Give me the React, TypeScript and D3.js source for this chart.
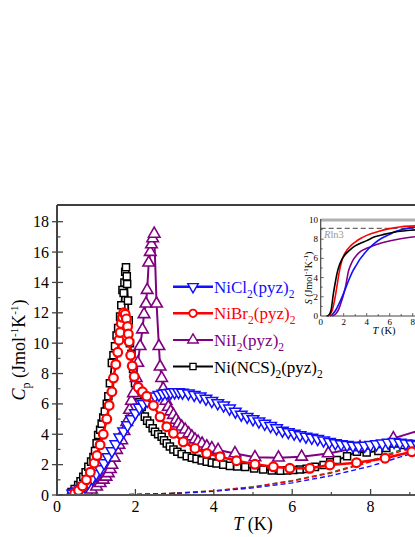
import React from 'react';
import * as d3 from 'd3';

// ---------- main data: Cp vs T ----------
const clT = [0.4,0.5,0.6,0.7,0.8,0.9,1.0,1.1,1.2,1.3,1.4,1.5,1.6,1.7,1.8,1.9,2.0,2.1,2.2,2.3,2.4,2.5,2.6,2.7,2.8,2.9,3.0,3.1,3.2,3.35,3.5,3.65,3.8,3.95,4.1,4.25,4.4,4.55,4.7,4.85,5.0,5.15,5.3,5.45,5.6,5.75,5.9,6.05,6.2,6.35,6.5,6.65,6.8,6.95,7.1,7.25,7.4,7.55,7.7,7.85,8.0,8.15,8.3,8.45,8.6,8.75,8.9,9.05,9.2];
const clCp = [0.1,0.2,0.4,0.6,0.85,1.1,1.4,1.7,2.1,2.5,2.9,3.35,3.8,4.2,4.6,5.0,5.4,5.75,6.0,6.2,6.35,6.5,6.6,6.68,6.72,6.75,6.77,6.78,6.75,6.7,6.6,6.5,6.35,6.2,6.05,5.9,5.7,5.5,5.3,5.15,5.0,4.85,4.7,4.55,4.4,4.25,4.15,4.05,3.95,3.85,3.78,3.7,3.6,3.5,3.42,3.35,3.3,3.25,3.22,3.25,3.3,3.35,3.4,3.45,3.5,3.45,3.4,3.35,3.3];

const brT = [0.45,0.55,0.65,0.75,0.85,0.95,1.02,1.1,1.18,1.27,1.33,1.4,1.44,1.5,1.55,1.58,1.61,1.64,1.67,1.7,1.74,1.77,1.8,1.82,1.84,1.88,1.92,1.97,2.07,2.18,2.29,2.46,2.63,2.8,2.97,3.22,3.52,3.82,4.16,4.58,5.05,5.52,5.94,6.45,6.96,7.64,8.37,9.05,9.4];
const brCp = [0.1,0.3,0.6,1.0,1.5,2.1,2.6,3.3,4.0,5.0,5.9,6.8,7.7,8.6,9.4,10.2,10.7,11.3,11.7,12.0,11.9,11.6,11.1,10.6,10.1,9.2,8.5,7.8,7.1,6.8,6.5,5.9,5.15,4.5,4.06,3.5,3.07,2.74,2.52,2.26,2.02,1.86,1.76,1.76,1.98,2.13,2.42,2.85,3.1];

const iT = [0.37,0.45,0.52,0.6,0.68,0.76,0.88,1.01,1.1,1.18,1.25,1.31,1.36,1.4,1.46,1.52,1.58,1.65,1.71,1.78,1.85,1.9,1.95,2.02,2.06,2.12,2.18,2.22,2.27,2.3,2.34,2.38,2.41,2.44,2.48,2.54,2.6,2.63,2.67,2.71,2.78,2.84,2.9,2.97,3.04,3.1,3.18,3.27,3.36,3.44,3.52,3.6,3.7,3.82,3.95,4.11,4.54,5.05,5.65,6.24,6.92,7.73,8.58,9.3];
const iCp = [0.1,0.1,0.12,0.15,0.18,0.22,0.35,0.55,0.78,1.0,1.2,1.43,1.7,1.98,2.45,2.96,3.3,3.6,4.2,4.8,5.6,6.2,6.7,7.7,8.7,9.8,10.9,11.9,12.6,13.5,15.3,16.0,16.5,16.9,17.2,12.6,9.8,8.45,7.7,7.0,6.2,5.8,5.5,5.27,4.95,4.7,4.5,4.3,4.05,3.85,3.65,3.5,3.38,3.2,3.08,2.96,2.74,2.48,2.46,2.52,2.74,3.14,3.73,4.3];

const ncsT = [0.37,0.45,0.54,0.6,0.67,0.73,0.8,0.87,0.93,0.97,1.01,1.05,1.1,1.14,1.18,1.22,1.27,1.31,1.35,1.4,1.44,1.48,1.52,1.56,1.61,1.64,1.67,1.7,1.72,1.74,1.76,1.78,1.79,1.81,1.83,1.86,1.9,1.94,1.99,2.05,2.1,2.16,2.24,2.3,2.37,2.44,2.5,2.58,2.67,2.73,2.8,2.88,2.97,3.07,3.18,3.31,3.44,3.56,3.69,3.82,3.95,4.07,4.24,4.41,4.6,4.8,5.03,5.26,5.48,5.7,5.87,6.03,6.2,6.37,6.58,6.8,6.97,7.14,7.4,7.65,7.9,8.2,8.4,8.6,8.85,9.1,9.3];
const ncsCp = [0.2,0.4,0.66,0.9,1.2,1.5,1.86,2.2,2.5,2.9,3.4,3.95,4.3,4.7,5.1,5.5,6.0,6.5,7.36,8.7,9.2,9.8,10.5,11.0,11.75,12.5,13.5,13.3,14.0,14.7,15.0,14.4,13.9,12.8,11.5,10.0,9.3,8.3,7.36,6.5,6.1,5.8,5.16,4.9,4.7,4.4,4.17,4.0,3.84,3.6,3.4,3.2,3.0,2.85,2.7,2.55,2.45,2.38,2.28,2.2,2.13,2.08,2.0,1.92,1.88,1.84,1.75,1.68,1.62,1.6,1.62,1.65,1.68,1.72,1.85,1.98,2.15,2.3,2.55,2.85,2.8,2.9,3.1,3.4,3.3,3.35,3.5];

// lattice contributions (dashed)
const latT = [0,1,2,3,4,5,6,7,8,9,10];
const latBlue = [0,0.004,0.03,0.1,0.24,0.47,0.8,1.28,1.9,2.7,3.7];
const latGreen = [0,0.005,0.035,0.12,0.28,0.55,0.95,1.5,2.25,3.2,4.4];
const latRed = [0,0.005,0.034,0.115,0.27,0.53,0.92,1.45,2.18,3.1,4.25];

// ---------- inset data: S vs T ----------
const sBlackT = [0.5,0.7,0.9,1.1,1.3,1.45,1.6,1.8,2.0,2.2,2.6,3.0,3.5,4.0,4.7,5.5,6.5,7.5,8.5];
const sBlack = [0,0.1,0.6,2.3,3.7,4.6,5.2,5.8,6.2,6.5,6.95,7.3,7.6,7.85,8.25,8.5,8.75,8.9,9.0];
const sRedT = [0.6,0.8,1.0,1.2,1.4,1.6,1.8,2.0,2.3,2.6,3.0,3.5,4.0,5.0,6.0,7.0,8.5];
const sRed = [0,0.15,0.6,1.6,3.0,4.5,5.6,6.3,6.9,7.3,7.7,8.1,8.4,8.8,9.1,9.3,9.4];
const sBlueT = [0.8,1.0,1.3,1.6,1.9,2.2,2.5,2.8,3.1,3.4,3.8,4.2,4.7,5.3,5.9,6.5,7.2,8.5];
const sBlue = [0,0.15,0.6,1.3,2.1,3.0,3.9,4.7,5.3,5.9,6.5,7.05,7.6,8.1,8.45,8.8,9.05,9.3];
const sPurT = [1.0,1.3,1.6,1.8,2.0,2.2,2.4,2.6,2.8,3.1,3.5,4.0,4.5,5.0,5.6,6.5,7.5,8.5];
const sPur = [0,0.2,0.8,1.5,2.3,3.3,4.6,5.3,5.8,6.3,6.75,7.05,7.3,7.5,7.7,7.95,8.15,8.3];
const rln3 = 9.13;

const mainXTicks = [0,2,4,6,8];
const mainYTicks = [0,2,4,6,8,10,12,14,16,18];
const insetXTicks = [0,2,4,6,8];
const insetYTicks = [0,2,4,6,8,10];

const BLUE = '#1010ff';
const RED = '#ff0000';
const PURPLE = '#800080';
const BLACK = '#000000';
const GREEN = '#2a7a2a';
const FONT = 'Liberation Serif, Times New Roman, serif';

const zip = (a: number[], b: number[]) => a.map((v, i) => [v, b[i]] as [number, number]);

export default function App() {
  const W = 415, H = 537;
  const L = 57, T0 = 205, B = 495, R = 449;
  const x = d3.scaleLinear().domain([0, 10]).range([L, R]);
  const y = d3.scaleLinear().domain([0, 19.1]).range([B, T0]);

  const line = d3.line<[number, number]>().x(d => x(d[0])).y(d => y(d[1]));

  const xi = d3.scaleLinear().domain([0, 10]).range([320.7, 435.7]);
  const yi = d3.scaleLinear().domain([0, 10]).range([316, 220]);
  const lineI = d3.line<[number, number]>().x(d => xi(d[0])).y(d => yi(d[1])).curve(d3.curveMonotoneX);

  const tri = d3.symbol().type(d3.symbolTriangle).size(58)()!;
  const sq = d3.symbol().type(d3.symbolSquare).size(50)()!;
  const circ = d3.symbol().type(d3.symbolCircle).size(60)()!;
  const triL = d3.symbol().type(d3.symbolTriangle).size(48)()!;
  const sqL = d3.symbol().type(d3.symbolSquare).size(38)()!;
  const circL = d3.symbol().type(d3.symbolCircle).size(44)()!;

  const series = [
    { key: 'ncs', t: ncsT, c: ncsCp, color: BLACK, path: sq, rot: 0, lw: 1.8, sw: 1.5 },
    { key: 'i', t: iT, c: iCp, color: PURPLE, path: tri, rot: 0, lw: 2, sw: 1.6 },
    { key: 'cl', t: clT, c: clCp, color: BLUE, path: tri, rot: 180, lw: 2.5, sw: 1.5 },
    { key: 'br', t: brT, c: brCp, color: RED, path: circ, rot: 0, lw: 2.5, sw: 2.2 },
  ];

  const legend = [
    { name: 'NiCl', color: BLUE, path: triL, rot: 180, sw: 1.4, lw: 2.5 },
    { name: 'NiBr', color: RED, path: circL, rot: 0, sw: 1.8, lw: 2.5 },
    { name: 'NiI', color: PURPLE, path: triL, rot: 0, sw: 1.4, lw: 2 },
    { name: 'Ni(NCS)', color: BLACK, path: sqL, rot: 0, sw: 1.3, lw: 2 },
  ];

  const minorX = d3.range(1, 10, 2);
  const minorY = d3.range(1, 19, 2);

  return (
    <svg width={W} height={H} style={{ position: 'absolute', left: 0, top: 0, background: '#fff' }} fontFamily={FONT}>
      <defs>
        <clipPath id="plot"><rect x={L} y={T0} width={R - L} height={B - T0} /></clipPath>
      </defs>
      {/* lattice dashed lines */}
      <g clipPath="url(#plot)" fill="none" strokeWidth={1.4} strokeDasharray="5,3">
        <path d={line(zip(latT, latGreen))!} stroke={GREEN} />
        <path d={line(zip(latT, latRed))!} stroke={RED} />
        <path d={line(zip(latT, latBlue))!} stroke={BLUE} />
      </g>
      {/* data series */}
      <g clipPath="url(#plot)">
        {series.map(s => (
          <g key={s.key}>
            <path d={line(zip(s.t, s.c))!} fill="none" stroke={s.color} strokeWidth={s.lw} />
            {s.t.map((tv, i) => (
              <path key={i} d={s.path} transform={`translate(${x(tv)},${y(s.c[i])}) rotate(${s.rot})`}
                fill="#fff" stroke={s.color} strokeWidth={s.sw} />
            ))}
          </g>
        ))}
      </g>
      {/* axes */}
      <line x1={L} x2={W} y1={T0} y2={T0} stroke="#000" strokeWidth={1.3} />
      <line x1={L} x2={L} y1={T0} y2={B + 1} stroke="#444" strokeWidth={2} />
      <line x1={L - 1} x2={W} y1={B} y2={B} stroke="#555" strokeWidth={2.2} />
      {mainXTicks.map(t => (
        <g key={'xt' + t}>
          <line x1={x(t)} x2={x(t)} y1={B} y2={B - 6} stroke="#444" strokeWidth={1.3} />
          <text x={x(t)} y={512} textAnchor="middle" fontSize={16}>{t}</text>
        </g>
      ))}
      {minorX.map(t => (
        <line key={'xm' + t} x1={x(t)} x2={x(t)} y1={B} y2={B - 3} stroke="#444" strokeWidth={1.2} />
      ))}
      {mainYTicks.map(t => (
        <g key={'yt' + t}>
          <line x1={L - 5} x2={L + 6} y1={y(t)} y2={y(t)} stroke="#444" strokeWidth={1.3} />
          <text x={49} y={y(t) + 5.5} textAnchor="end" fontSize={16}>{t}</text>
        </g>
      ))}
      {minorY.map(t => (
        <line key={'ym' + t} x1={L} x2={L + 3.5} y1={y(t)} y2={y(t)} stroke="#444" strokeWidth={1.2} />
      ))}
      {/* axis labels */}
      <text transform={`translate(25,${(T0 + B) / 2}) rotate(-90)`} textAnchor="middle" fontSize={18}>
        <tspan fontStyle="italic">C</tspan>
        <tspan fontSize={12} dy={5}>p</tspan>
        <tspan dy={-5}> (Jmol</tspan>
        <tspan fontSize={11} dy={-7}>-1</tspan>
        <tspan dy={7}>K</tspan>
        <tspan fontSize={11} dy={-7}>-1</tspan>
        <tspan dy={7}>)</tspan>
      </text>
      <text x={(L + R) / 2} y={530} textAnchor="middle" fontSize={18}>
        <tspan fontStyle="italic">T</tspan> (K)
      </text>
      {/* legend */}
      {legend.map((l, i) => {
        const ly = 286.7 + i * 26.6;
        return (
          <g key={l.name}>
            <line x1={173} x2={213} y1={ly} y2={ly} stroke={l.color} strokeWidth={l.lw} />
            <path d={l.path} transform={`translate(193,${ly}) rotate(${l.rot})`} fill="#fff" stroke={l.color} strokeWidth={l.sw} />
            <text x={214} y={ly + 6} fontSize={17} fill={l.color}>
              {l.name}<tspan fontSize={11.5} dy={5}>2</tspan><tspan dy={-5}>(pyz)</tspan><tspan fontSize={11.5} dy={5}>2</tspan>
            </text>
          </g>
        );
      })}
      {/* inset */}
      <g>
        <rect x={xi(0)} y={yi(10)} width={W - xi(0)} height={yi(0) - yi(10)} fill="#fff" />
        <line x1={xi(0)} x2={W} y1={yi(rln3)} y2={yi(rln3)} stroke="#666" strokeWidth={1.2} strokeDasharray="5,3" />
        <text x={324} y={238} fontSize={10.5} fill="#999"><tspan fontStyle="italic">R</tspan>ln3</text>
        <path d={lineI(zip(sPurT, sPur))!} fill="none" stroke={PURPLE} strokeWidth={1.6} />
        <path d={lineI(zip(sBlueT, sBlue))!} fill="none" stroke={BLUE} strokeWidth={1.6} />
        <path d={lineI(zip(sRedT, sRed))!} fill="none" stroke={RED} strokeWidth={1.6} />
        <path d={lineI(zip(sBlackT, sBlack))!} fill="none" stroke={BLACK} strokeWidth={1.6} />
        <line x1={xi(0)} x2={W} y1={yi(10)} y2={yi(10)} stroke="#b0b0b0" strokeWidth={3} />
        <line x1={xi(0)} x2={xi(0)} y1={yi(10) - 1} y2={yi(0)} stroke="#444" strokeWidth={1.2} />
        <line x1={xi(0)} x2={W} y1={yi(0)} y2={yi(0)} stroke="#444" strokeWidth={1.2} />
        {d3.range(1, 9).map(t => (
          <line key={'ixt' + t} x1={xi(t)} x2={xi(t)} y1={yi(0)} y2={yi(0) - (t % 2 === 0 ? 3 : 2)} stroke="#444" strokeWidth={0.8} />
        ))}
        {d3.range(1, 10).map(t => (
          <line key={'iyt' + t} x1={xi(0)} x2={xi(0) + (t % 2 === 0 ? 3 : 2)} y1={yi(t)} y2={yi(t)} stroke="#444" strokeWidth={0.8} />
        ))}
        {insetXTicks.map(t => (
          <text key={'ixl' + t} x={xi(t)} y={325} textAnchor="middle" fontSize={9}>{t}</text>
        ))}
        {insetYTicks.map(t => (
          <text key={'iyl' + t} x={318} y={yi(t) + 3} textAnchor="end" fontSize={9}>{t}</text>
        ))}
        <text x={384} y={334} textAnchor="middle" fontSize={10.5}>
          <tspan fontStyle="italic">T</tspan> (K)
        </text>
        <text transform={`translate(312,278) rotate(-90)`} textAnchor="middle" fontSize={10}>
          <tspan fontStyle="italic">S</tspan> (Jmol<tspan fontSize={7} dy={-4}>-1</tspan><tspan dy={4}>K</tspan><tspan fontSize={7} dy={-4}>-1</tspan><tspan dy={4}>)</tspan>
        </text>
      </g>
    </svg>
  );
}
